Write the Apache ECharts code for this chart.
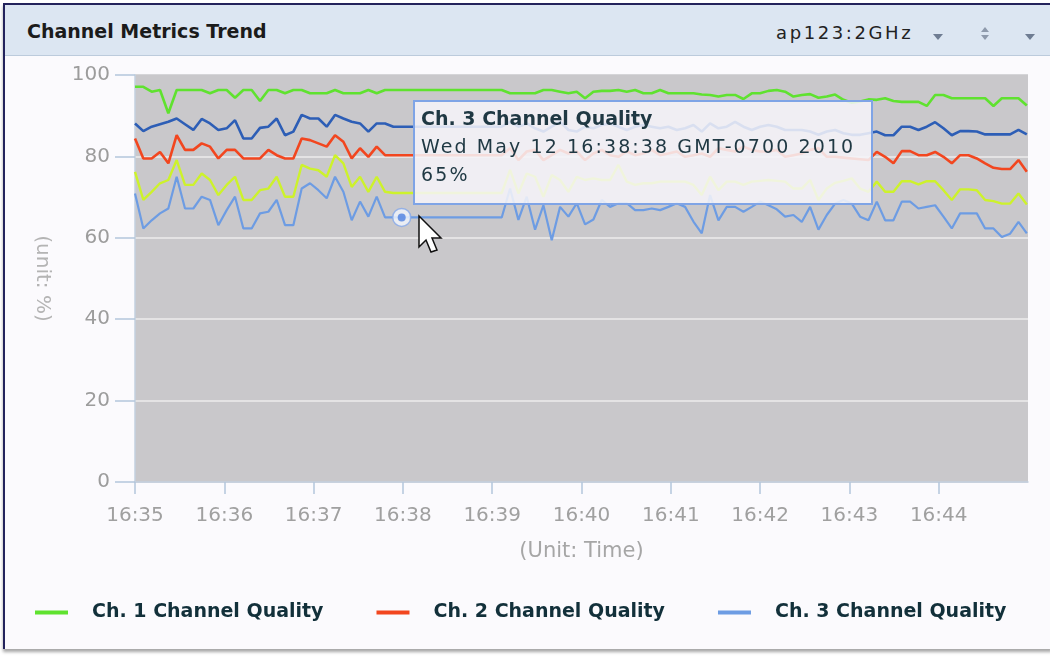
<!DOCTYPE html>
<html>
<head>
<meta charset="utf-8">
<title>Channel Metrics Trend</title>
<script src="https://cdn.jsdelivr.net/npm/echarts@6/dist/echarts.min.js"></script>
<style>
  html, body { margin: 0; padding: 0; width: 1050px; height: 658px; overflow: hidden; background: #ffffff; font-family: "DejaVu Sans", Verdana, sans-serif; }
  #panel { position: absolute; left: 3px; top: 3px; width: 1047px; height: 644px; background: #fbfafd; border-left: 2px solid #23235c; border-top: 2px solid #23235c; box-shadow: 0 3px 3px rgba(0,0,0,0.35); }
  #header { position: absolute; left: 5px; top: 5px; width: 1045px; height: 50px; background: #dce6f2; border-bottom: 1px solid #bccbdc; z-index: 3; }
  #title { position: absolute; left: 22px; top: 0; line-height: 52px; font-weight: bold; font-size: 19px; color: #1b1b1b; }
  #ap { position: absolute; left: 771px; top: 0; line-height: 56px; font-size: 18px; letter-spacing: 2.6px; color: #222; }
  .down { position: absolute; width: 0; height: 0; border-left: 5px solid transparent; border-right: 5px solid transparent; border-top: 6px solid #6f7d93; }
  .up { position: absolute; width: 0; height: 0; border-left: 4px solid transparent; border-right: 4px solid transparent; border-bottom: 5px solid #8e9aac; }
  .dn { position: absolute; width: 0; height: 0; border-left: 4px solid transparent; border-right: 4px solid transparent; border-top: 5px solid #8e9aac; }
  #chart { position: absolute; left: 0; top: 0; width: 1050px; height: 658px; z-index: 2; }
</style>
</head>
<body>
<div id="panel"></div>
<div id="chart"></div>
<div id="header">
  <div id="title">Channel Metrics Trend</div>
  <div id="ap">ap123:2GHz</div>
  <div class="down" style="left:928px;top:29px;"></div>
  <div class="up" style="left:976px;top:22px;"></div>
  <div class="dn" style="left:976px;top:30px;"></div>
  <div class="down" style="left:1020px;top:29px;"></div>
</div>
<script>
// Poll spacing (seconds) and the clock time of the first poll.
const sampleStep = 5.6;
const startClock = [16, 35, 39];
const tickSeconds = [0, 60, 120, 180, 240, 300, 360, 420, 480, 540];
const yTicks = [0, 20, 40, 60, 80, 100];

const legendNames = ['Ch. 1 Channel Quality', 'Ch. 2 Channel Quality', 'Ch. 3 Channel Quality'];
const extraNames = ['Ch. 4 Channel Quality', 'Ch. 5 Channel Quality'];

// Channel quality readings (%), one per poll.
const ch1Quality = [
  97.1, 97.1, 95.9, 96.3, 90.6, 96.3, 96.3, 96.3, 96.3, 95.5,
  96.3, 96.3, 94.4, 96.3, 96.3, 93.6, 96.3, 96.3, 95.5, 96.3,
  96.3, 95.5, 95.5, 95.5, 96.3, 95.5, 95.5, 95.5, 96.3, 95.5,
  96.3, 96.3, 96.3, 96.3, 96.3, 96.3, 96.3, 96.3, 96.3, 96.3,
  96.3, 96.3, 96.3, 96.3, 96.3, 95.5, 95.5, 95.5, 95.5, 96.3,
  96.3, 95.9, 95.5, 95.9, 94.3, 95.9, 96.1, 96.1, 96.3, 95.9,
  96.3, 95.5, 95.5, 96.3, 95.5, 95.5, 95.5, 95.5, 95.2, 95.1,
  94.7, 95.1, 95.1, 94.1, 95.5, 95.5, 96.1, 96.3, 95.9, 94.7,
  95.1, 95.3, 94.4, 94.7, 95.2, 93.9, 93.2, 93.5, 94.0, 93.9,
  94.3, 93.6, 93.4, 93.4, 93.4, 92.4, 95.1, 95.1, 94.3, 94.3,
  94.3, 94.3, 94.3, 92.4, 94.3, 94.3, 94.3, 92.5
];
const ch2Quality = [
  84.4, 79.5, 79.5, 81.1, 78.3, 85.2, 81.6, 81.6, 83.2, 82.4,
  79.5, 81.6, 81.6, 79.5, 79.5, 79.5, 81.6, 80.3, 79.5, 79.5,
  84.4, 84.0, 83.2, 82.4, 85.2, 83.6, 79.5, 82.0, 79.9, 82.4,
  80.3, 80.3, 80.3, 80.3, 80.3, 80.3, 80.3, 80.3, 80.3, 80.3,
  80.3, 80.3, 80.3, 80.3, 80.3, 82.0, 79.1, 81.2, 81.6, 79.1,
  80.3, 81.6, 80.7, 81.2, 79.1, 80.7, 81.6, 80.3, 79.9, 81.2,
  80.3, 80.7, 81.6, 80.3, 80.7, 81.2, 79.9, 80.3, 80.7, 79.9,
  82.0, 81.6, 81.2, 82.4, 81.6, 81.2, 81.2, 81.6, 79.9, 80.3,
  80.7, 81.6, 82.0, 79.9, 79.9, 79.7, 79.5, 79.3, 79.1, 81.1,
  79.9, 78.3, 81.3, 81.3, 80.3, 80.3, 81.1, 79.9, 78.3, 80.3,
  80.3, 79.5, 78.3, 77.2, 76.9, 76.9, 79.1, 76.2
];
const ch3Quality = [
  70.9, 62.3, 64.3, 66.0, 67.2, 75.0, 67.2, 67.2, 70.1, 69.3,
  63.1, 66.8, 70.1, 62.3, 62.3, 66.0, 66.4, 69.3, 63.1, 63.1,
  72.1, 73.4, 71.7, 69.7, 75.0, 71.3, 64.3, 68.9, 65.2, 70.1,
  65.0, 65.0, 65.0, 65.0, 65.0, 65.0, 65.0, 65.0, 65.0, 65.0,
  65.0, 65.0, 65.0, 65.0, 65.0, 72.1, 64.4, 70.1, 62.0, 68.0,
  59.4, 67.6, 65.2, 68.5, 63.3, 64.5, 69.3, 67.6, 68.5, 68.5,
  66.8, 66.8, 67.2, 66.8, 67.6, 68.5, 67.6, 64.0, 61.1, 70.5,
  64.3, 67.6, 67.6, 66.4, 67.6, 68.9, 68.0, 67.0, 65.2, 65.6,
  63.9, 67.6, 62.0, 65.6, 68.4, 69.3, 68.4, 65.2, 64.3, 68.9,
  64.3, 64.3, 68.9, 68.9, 67.2, 67.6, 68.0, 65.2, 62.3, 66.0,
  66.0, 66.0, 62.3, 62.3, 60.2, 61.0, 63.9, 61.1
];
const ch4Quality = [
  88.1, 86.2, 87.3, 87.9, 88.5, 89.3, 87.9, 86.5, 89.2, 88.1,
  86.5, 86.9, 88.9, 84.4, 84.4, 87.0, 87.3, 89.3, 85.2, 86.1,
  90.2, 89.3, 89.3, 87.3, 90.2, 89.3, 88.5, 88.1, 86.1, 88.1,
  88.1, 87.3, 87.3, 87.3, 87.3, 87.3, 87.3, 87.3, 87.3, 87.3,
  87.3, 87.3, 87.3, 87.3, 87.3, 88.5, 87.3, 88.1, 86.9, 86.1,
  87.3, 88.5, 86.5, 86.1, 87.3, 86.9, 87.7, 88.1, 87.3, 86.5,
  87.3, 87.7, 87.3, 86.9, 87.3, 86.5, 86.9, 87.7, 86.1, 88.1,
  86.9, 87.3, 88.5, 87.3, 86.5, 87.3, 87.7, 87.3, 86.5, 86.5,
  86.5, 86.1, 85.3, 86.1, 86.5, 85.7, 85.3, 85.3, 85.7, 86.1,
  85.2, 85.2, 87.3, 87.3, 86.5, 87.3, 88.4, 86.9, 85.2, 86.2,
  86.2, 86.1, 85.4, 85.4, 85.4, 85.4, 86.5, 85.4
];
const ch5Quality = [
  76.2, 69.3, 71.3, 73.4, 74.2, 79.1, 73.0, 73.0, 75.8, 74.2,
  70.5, 73.0, 75.0, 69.3, 69.3, 71.7, 72.1, 75.0, 70.1, 70.1,
  77.9, 77.0, 76.6, 75.0, 80.3, 78.3, 72.5, 75.0, 71.3, 75.0,
  71.3, 71.0, 71.0, 71.0, 71.0, 71.0, 71.0, 71.0, 71.0, 71.0,
  71.0, 71.0, 71.0, 71.0, 71.0, 76.7, 70.9, 75.8, 75.0, 70.1,
  75.4, 74.2, 71.3, 75.0, 74.2, 74.6, 74.2, 74.2, 77.9, 73.8,
  73.0, 73.4, 73.4, 73.8, 73.8, 73.8, 73.8, 73.0, 70.5, 75.0,
  71.7, 73.8, 73.8, 73.0, 73.8, 74.0, 74.2, 74.0, 73.8, 72.1,
  72.1, 74.2, 69.3, 72.1, 73.5, 74.0, 74.6, 72.1, 71.3, 73.8,
  71.3, 71.3, 73.9, 73.9, 73.1, 73.9, 73.9, 71.7, 69.3, 71.9,
  71.9, 71.7, 69.3, 69.0, 68.4, 68.4, 70.9, 68.2
];

// Poll that is currently hovered on the Ch. 3 line.
const hoverIndex = 32;

const dayNames = ['Sun', 'Mon', 'Tue', 'Wed', 'Thu', 'Fri', 'Sat'];
const monthNames = ['Jan', 'Feb', 'Mar', 'Apr', 'May', 'Jun', 'Jul', 'Aug', 'Sep', 'Oct', 'Nov', 'Dec'];
const pad2 = n => (n < 10 ? '0' : '') + n;

function clockAt(sec) {
  return new Date(2010, 4, 12, startClock[0], startClock[1], startClock[2] + Math.round(sec));
}

function toPoints(values) {
  return values.map((v, i) => [i * sampleStep, v]);
}

const chart = echarts.init(document.getElementById('chart'), null, { renderer: 'canvas' });

const lineSeries = (name, values, color, width, z) => ({
  name: name,
  type: 'line',
  data: toPoints(values),
  showSymbol: false,
  symbol: 'none',
  silent: true,
  z: z,
  lineStyle: { color: color, width: width },
  itemStyle: { color: color },
  emphasis: { disabled: true }
});

const hoverPoint = [[hoverIndex * sampleStep, ch3Quality[hoverIndex]]];

chart.setOption({
  animation: false,
  grid: {
    left: 135, right: 22, top: 75, bottom: 176,
    show: true, backgroundColor: '#c9c8cb', borderWidth: 0
  },
  legend: {
    data: legendNames,
    left: 30, top: 598,
    icon: 'rect',
    itemWidth: 33, itemHeight: 4,
    itemGap: 53,
    selectedMode: false,
    textStyle: {
      fontFamily: 'DejaVu Sans', fontWeight: 'bold', fontSize: 19,
      color: '#12303a', padding: [0, 0, 0, 19]
    }
  },
  tooltip: {
    trigger: 'item',
    triggerOn: 'none',
    alwaysShowContent: true,
    transitionDuration: 0,
    showDelay: 0,
    position: [413, 100],
    padding: 0,
    borderWidth: 0,
    backgroundColor: 'rgba(0,0,0,0)',
    extraCssText: 'box-shadow:none;border-radius:0;',
    formatter: function (p) {
      const d = clockAt(p.value[0]);
      const stamp = dayNames[d.getDay()] + ' ' + monthNames[d.getMonth()] + ' ' + d.getDate() + ' ' +
        pad2(d.getHours()) + ':' + pad2(d.getMinutes()) + ':' + pad2(d.getSeconds()) +
        ' GMT-0700 ' + d.getFullYear();
      const row = 'font-size:19px;line-height:28px;letter-spacing:2.1px;';
      return '<div style="width:460px;height:105px;box-sizing:border-box;border:2px solid #7fa4e6;' +
        'background:rgba(246,245,249,0.86);padding:2px 6px;font-family:\'DejaVu Sans\';color:#1f3843;text-align:left;">' +
        '<div style="font-size:19px;line-height:28px;font-weight:bold;">' + p.seriesName + '</div>' +
        '<div style="' + row + '">' + stamp + '</div>' +
        '<div style="' + row + '">' + Math.round(p.value[1]) + '%</div></div>';
    }
  },
  xAxis: {
    type: 'value',
    min: 0, max: 600, interval: 60,
    name: '(Unit: Time)',
    nameLocation: 'middle',
    nameGap: 59,
    nameTextStyle: { fontFamily: 'DejaVu Sans', fontSize: 21, color: '#a6a6a6' },
    axisLine: { show: true, lineStyle: { color: '#c3d0df', width: 1.5 } },
    axisTick: { show: true, customValues: tickSeconds, length: 12, lineStyle: { color: '#b4c6dc', width: 1.5 } },
    axisLabel: {
      customValues: tickSeconds,
      margin: 24,
      fontFamily: 'DejaVu Sans', fontSize: 20, color: '#a0a0a0',
      formatter: v => { const d = clockAt(v); return pad2(d.getHours()) + ':' + pad2(d.getMinutes()); }
    },
    splitLine: { show: false }
  },
  yAxis: {
    type: 'value',
    min: yTicks[0], max: yTicks[yTicks.length - 1], interval: 20,
    name: '(unit: %)',
    nameLocation: 'middle',
    nameRotate: -90,
    nameGap: 83,
    nameTextStyle: { fontFamily: 'DejaVu Sans', fontSize: 20, color: '#b4b4b4' },
    axisLine: { show: true, lineStyle: { color: '#c3d0df', width: 1.5 } },
    axisTick: { show: true, length: 20, lineStyle: { color: '#b4c6dc', width: 1.5 } },
    axisLabel: { margin: 25, fontFamily: 'DejaVu Sans', fontSize: 20, color: '#9c9c9c' },
    splitLine: {
      show: true,
      lineStyle: { color: ['#c9c8cb', '#ececec', '#ececec', '#ececec', '#ececec', '#c9c8cb'], width: 1.5 }
    }
  },
  series: [
    lineSeries(legendNames[0], ch1Quality, '#5fe22f', 2.6, 3),
    lineSeries(legendNames[1], ch2Quality, '#f2461f', 2.6, 3),
    lineSeries(legendNames[2], ch3Quality, '#6d9ce3', 2.2, 3),
    lineSeries(extraNames[0], ch4Quality, '#2d5eb6', 2.6, 3),
    lineSeries(extraNames[1], ch5Quality, '#cdf22b', 2.4, 3),
    {
      name: legendNames[2],
      type: 'scatter',
      data: hoverPoint,
      symbolSize: 18,
      silent: true,
      z: 5,
      itemStyle: { color: '#f3f6fc', borderColor: '#85a8e8', borderWidth: 1.5 },
      emphasis: { disabled: true },
      tooltip: { show: false }
    },
    {
      name: legendNames[2],
      type: 'scatter',
      data: hoverPoint,
      symbolSize: 8,
      z: 6,
      itemStyle: { color: '#4d80e0' },
      emphasis: { disabled: true }
    }
  ],
  graphic: [{
    // mouse pointer resting next to the hovered poll
    type: 'polygon',
    z: 100,
    silent: true,
    shape: {
      points: [[419, 216], [419, 247], [426, 240], [431, 252], [437, 250], [432, 238], [441, 238]]
    },
    style: { fill: '#ffffff', stroke: '#111111', lineWidth: 1.5 }
  }]
});

chart.dispatchAction({ type: 'showTip', seriesIndex: 6, dataIndex: 0 });
</script>
</body>
</html>
